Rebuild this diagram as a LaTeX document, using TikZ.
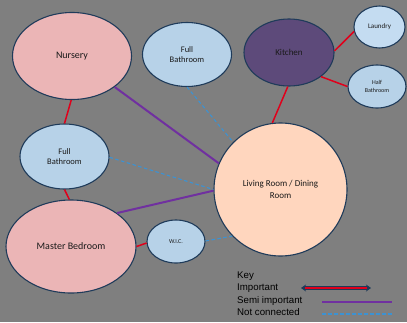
\documentclass[tikz,border=0pt]{standalone}
\usepackage{fontspec}
\setmainfont{Carlito}
\newfontfamily\keyfont{Liberation Sans}
\usetikzlibrary{shapes.geometric,arrows.meta}
\definecolor{bg}{HTML}{7F7F7F}
\definecolor{pinkroom}{HTML}{EBB5B6}
\definecolor{blueroom}{HTML}{B7D2E8}
\definecolor{blueroomlt}{HTML}{C4DCF1}
\definecolor{kitchenc}{HTML}{5D4A7A}
\definecolor{peach}{HTML}{FFD6BE}
\definecolor{rim}{HTML}{1F3B5A}
\definecolor{impred}{HTML}{E0001B}
\definecolor{semipur}{HTML}{7030A0}
\definecolor{notblue}{HTML}{3C92D2}
\definecolor{txt}{HTML}{1A1A1A}
\tikzset{
  room/.style={ellipse, draw=rim, line width=1.1pt, inner sep=0pt, text=txt, align=center},
  imp/.style={draw=impred, line width=1.5pt},
  semi/.style={draw=semipur, line width=2pt},
  notc/.style={draw=notblue, line width=1.1pt, dash pattern=on 3.5pt off 2.5pt},
  keytext/.style={anchor=west, inner sep=0pt, font=\keyfont\fontsize{9.7}{11}\selectfont, text=black}
}
\begin{document}
\begin{tikzpicture}[x=1pt,y=-1pt]
\fill[bg] (0,0) rectangle (407,322);
\useasboundingbox (0,0) rectangle (407,322);

\node[room, fill=pinkroom, minimum width=119pt, minimum height=87pt, font=\fontsize{10}{12}\selectfont] (nur) at (72,56) {Nursery};
\node[room, fill=blueroom, minimum width=89pt, minimum height=64pt, font=\fontsize{8.5}{10.5}\selectfont] (fbt) at (187,54.5) {Full\\Bathroom};
\node[room, fill=kitchenc, minimum width=90pt, minimum height=67pt, font=\fontsize{9}{11}\selectfont] (kit) at (289,52.5) {Kitchen};
\node[room, fill=blueroomlt, minimum width=51pt, minimum height=42pt, font=\fontsize{7}{8.5}\selectfont] (lau) at (379.5,27) {Laundry};
\node[room, fill=blueroom, minimum width=58pt, minimum height=43pt, font=\fontsize{6}{7.5}\selectfont] (hb) at (377,86.5) {Half\\Bathroom};
\node[room, fill=blueroom, minimum width=89pt, minimum height=65pt, font=\fontsize{8.5}{10.5}\selectfont] (fbl) at (64.5,156.5) {Full\\Bathroom};
\node[room, fill=pinkroom, minimum width=130pt, minimum height=93pt, font=\fontsize{10}{12}\selectfont] (mb) at (71,246.5) {Master Bedroom};
\node[room, fill=blueroom, minimum width=58pt, minimum height=43pt, font=\fontsize{6}{7.5}\selectfont] (wic) at (176,241.5) {W.I.C.};
\node[room, fill=peach, minimum width=133pt, minimum height=133pt, font=\fontsize{9}{12}\selectfont] (liv) at (280.5,189.5) {Living Room / Dining\\Room};

% connectors
\draw[imp] (nur.-91) -- (fbl.90);
\draw[semi] (nur.-36) -- (liv.157.5);
\draw[notc] (fbt.-90) -- (liv.135);
\draw[imp] (kit.-92) -- (liv.97);
\draw[imp] (kit.2) -- (lau.190);
\draw[imp] (kit.-37) -- (hb.180);
\draw[imp] (fbl.-90) -- (mb.92);
\draw[notc] (fbl.-1) -- (liv.180.5);
\draw[semi] (mb.36) -- (liv.181.5);
\draw[imp] (mb.0) -- (wic.183);
\draw[notc] (wic.1) -- (liv.224);

% key
\node[keytext] (kkey) at (237,276) {Key};
\node[keytext] (kimp) at (237,288) {Important};
\node[keytext] (ksemi) at (237,300.5) {Semi important};
\node[keytext] (knot) at (237,312.5) {Not connected};
\coordinate (ia) at (301,288);
\coordinate (ib) at (371,288);
\coordinate (sa) at (322,302);
\coordinate (sb) at (392,302);
\coordinate (na) at (322,314);
\coordinate (nb) at (392,314);
\draw[draw=rim, line width=3.2pt, {Stealth[length=5pt,width=7pt]}-{Stealth[length=5pt,width=7pt]}] (ia) -- (ib);
\draw[draw=impred, line width=1.8pt, shorten <=4pt, shorten >=4pt] (ia) -- (ib);
\draw[semi] (sa) -- (sb);
\draw[notc] (na) -- (nb);
\end{tikzpicture}
\end{document}
